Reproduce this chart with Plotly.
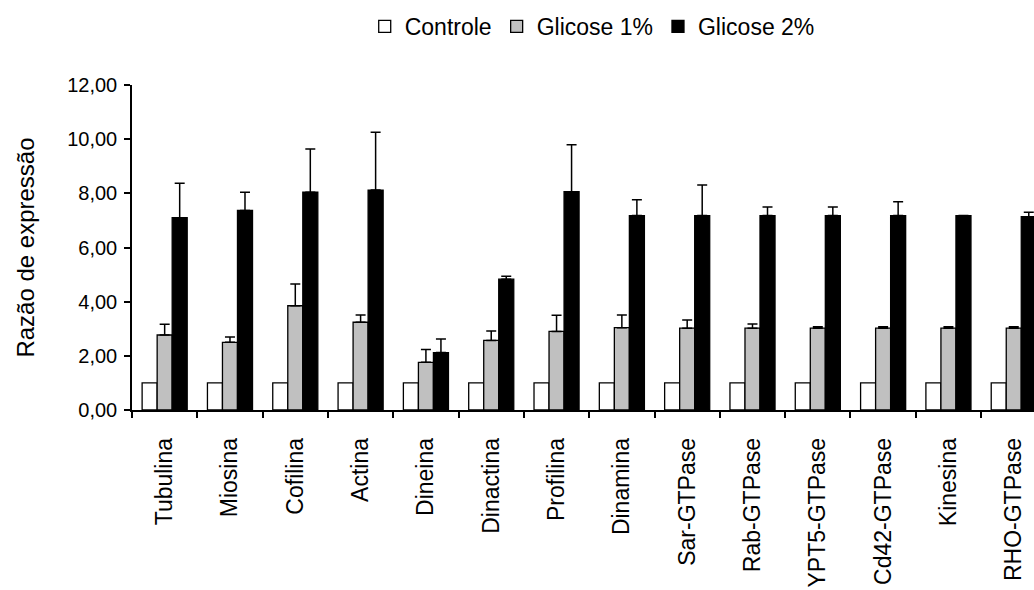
import plotly.graph_objects as go

# Gene categories (x axis)
categories = ["Tubulina", "Miosina", "Cofilina", "Actina", "Dineina", "Dinactina",
              "Profilina", "Dinamina", "Sar-GTPase", "Rab-GTPase", "YPT5-GTPase",
              "Cd42-GTPase", "Kinesina", "RHO-GTPase"]

# Expression ratios per treatment
controle = [1.00, 1.00, 1.00, 1.00, 1.00, 1.00, 1.00, 1.00, 1.00, 1.00, 1.00, 1.00, 1.00, 1.00]
glicose1 = [2.77, 2.50, 3.85, 3.24, 1.76, 2.57, 2.90, 3.04, 3.02, 3.02, 3.02, 3.02, 3.02, 3.02]
glicose1_err = [0.40, 0.20, 0.80, 0.27, 0.47, 0.35, 0.60, 0.47, 0.30, 0.16, 0.05, 0.05, 0.05, 0.05]
glicose2 = [7.10, 7.37, 8.04, 8.12, 2.12, 4.83, 8.06, 7.18, 7.18, 7.18, 7.18, 7.18, 7.18, 7.14]
glicose2_err = [1.27, 0.67, 1.60, 2.14, 0.50, 0.11, 1.73, 0.58, 1.13, 0.32, 0.32, 0.51, 0.00, 0.16]

# Y axis ticks (Portuguese decimal comma)
y_ticks = [0, 2, 4, 6, 8, 10, 12]
y_tick_labels = ["0,00", "2,00", "4,00", "6,00", "8,00", "10,00", "12,00"]

FONT = "Liberation Sans, Arial, sans-serif"
outline = dict(color="#000000", width=1.3)
zeros = [0] * len(categories)

fig = go.Figure()
fig.add_trace(go.Bar(
    name="Controle", x=categories, y=controle,
    marker=dict(color="#ffffff", line=outline),
))
fig.add_trace(go.Bar(
    name="Glicose 1%", x=categories, y=glicose1,
    marker=dict(color="#c0c0c0", line=outline),
    error_y=dict(type="data", symmetric=False, array=glicose1_err, arrayminus=zeros,
                 color="#000000", thickness=1.5, width=5),
))
fig.add_trace(go.Bar(
    name="Glicose 2%", x=categories, y=glicose2,
    marker=dict(color="#000000", line=outline),
    error_y=dict(type="data", symmetric=False, array=glicose2_err, arrayminus=zeros,
                 color="#000000", thickness=1.5, width=5),
))

fig.update_layout(
    width=1034, height=590,
    margin=dict(l=132, r=0, t=85, b=180, pad=0),
    paper_bgcolor="#ffffff", plot_bgcolor="#ffffff",
    barmode="group", bargap=0.31, bargroupgap=0,
    font=dict(family=FONT, color="#000000", size=18),
    showlegend=True,
    legend=dict(orientation="h", x=0.258, xanchor="left",
                y=(590 - 5) / 590, yref="container", yanchor="top",
                font=dict(family=FONT, size=23, color="#000000"),
                itemwidth=30, tracegroupgap=0, bgcolor="rgba(0,0,0,0)"),
)

fig.update_xaxes(
    type="category", range=[-0.5, 13.31],
    showline=True, linecolor="#000000", linewidth=1.5,
    ticks="outside", tickson="boundaries", ticklen=6, tickwidth=1.5, tickcolor="#000000",
    tickangle=-90, tickfont=dict(family=FONT, size=23, color="#000000"),
    ticklabelstandoff=17,
    showgrid=False, zeroline=False,
)
fig.update_yaxes(
    range=[0, 12], tickvals=y_ticks, ticktext=y_tick_labels,
    showline=True, linecolor="#000000", linewidth=1.5,
    ticks="outside", ticklen=6, tickwidth=1.5, tickcolor="#000000",
    tickfont=dict(family=FONT, size=20, color="#000000"),
    ticklabelstandoff=3,
    title=dict(text="Razão de expressão", font=dict(family=FONT, size=24, color="#000000"),
               standoff=26),
    showgrid=False, zeroline=False,
)

fig.write_html("out.html")
